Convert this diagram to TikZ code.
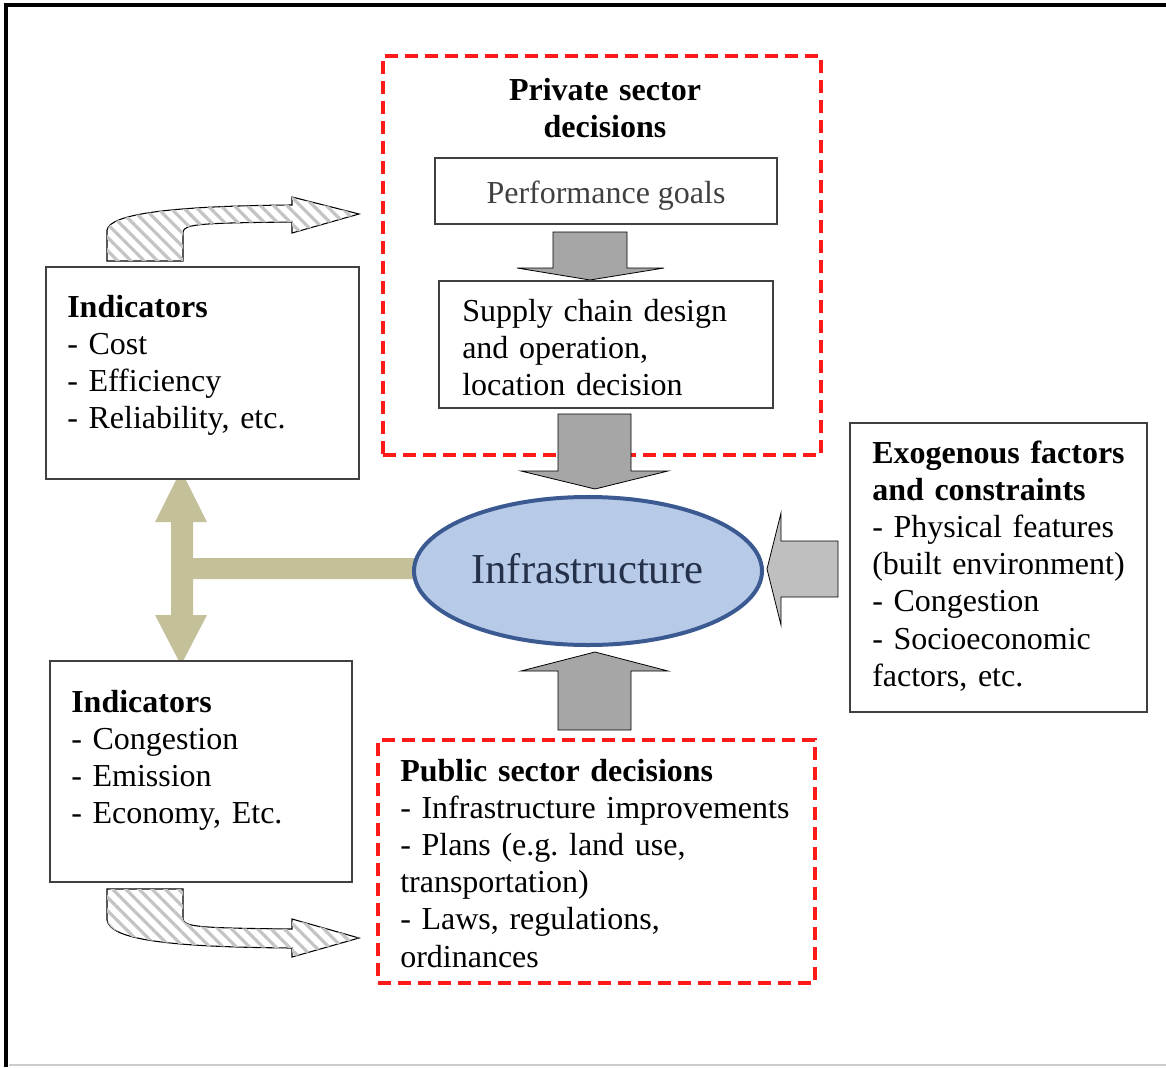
\documentclass[tikz,border=0pt]{standalone}
\usepackage{fontspec}
\setmainfont{Liberation Serif}
\usetikzlibrary{shapes.geometric,patterns.meta}
\definecolor{boxline}{HTML}{404040}
\definecolor{dashred}{HTML}{FF1A1A}
\definecolor{arrgray}{HTML}{A6A6A6}
\definecolor{arrlight}{HTML}{BFBFBF}
\definecolor{olive}{HTML}{C4C09A}
\definecolor{ellfill}{HTML}{B7CAE8}
\definecolor{elledge}{HTML}{3B5A92}
\definecolor{infratext}{HTML}{253049}
\definecolor{hatch}{HTML}{C4C4C4}
\tikzset{
  plainbox/.style={draw=boxline, line width=1.2pt, fill=white, inner sep=0pt},
  redbox/.style={draw=dashred, line width=3pt, dash pattern=on 9.75pt off 5.25pt, inner sep=0pt},
  txt/.style={inner sep=0pt, anchor=base west, align=left, font=\fontsize{24}{27.9}\selectfont},
  blockarrow/.style={draw=black, line width=0.6pt, fill=arrgray},
  hatcharrow/.style={draw=black, line width=0.8pt, fill=white, postaction={pattern={Lines[angle=-45,distance=7pt,line width=2.4pt]}, pattern color=hatch}},
}
\frenchspacing
\begin{document}
\frenchspacing
\begin{tikzpicture}[x=0.75pt,y=-0.75pt]
\useasboundingbox (0,0) rectangle (1166,1067);
% outer frame
\draw[black, line width=3pt] (6,1067) -- (6,5) -- (1166,5);
\draw[gray!40, line width=1pt] (9,1065) -- (1166,1065);

% private sector block
\node[redbox, minimum width=328.5pt, minimum height=299.25pt] (priv) at (602,255.5) {};
\node[txt, anchor=base, align=center, text width=300pt] (privt) at (605,100) {\textbf{Private sector}\\\textbf{decisions}};
\node[plainbox, minimum width=256.5pt, minimum height=49.5pt] (perf) at (606,191) {};
\node[txt, text=boxline, anchor=base] (perft) at (606,203) {Performance goals};
\path[blockarrow] (553,232) -- (627,232) -- (627,268) -- (664,268) -- (590,280) -- (517,268) -- (553,268) -- cycle;
\node[plainbox, minimum width=250.5pt, minimum height=95.25pt] (supply) at (606,344.5) {};
\node[txt, text width=240pt] (supplyt) at (462,321) {Supply chain design\\and operation,\\location decision};

% arrow into infrastructure from above
\path[blockarrow] (558,414) -- (631,414) -- (631,471) -- (668,471) -- (595,489) -- (521,471) -- (558,471) -- cycle;

% olive T arrow
\path[fill=olive] (181,470) -- (207,522) -- (193,522) -- (193,558) -- (430,558) -- (430,579) -- (193,579) -- (193,615) -- (207,615) -- (181,665) -- (155,615) -- (171,615) -- (171,522) -- (155,522) -- cycle;

% infrastructure
\node[ellipse, draw=elledge, line width=3pt, fill=ellfill, minimum width=261pt, minimum height=111pt, inner sep=0pt] (infra) at (588,571) {};
\node[inner sep=0pt, anchor=base west, text=infratext, font=\fontsize{32}{36}\selectfont] (infrat) at (471,583) {Infrastructure};

% arrow from below
\path[blockarrow] (558,730) -- (631,730) -- (631,671) -- (668,671) -- (595,652) -- (521,671) -- (558,671) -- cycle;
% arrow from the right
\path[blockarrow, fill=arrlight] (838,541) -- (838,597) -- (781,597) -- (781,625) -- (767,569) -- (781,513) -- (781,541) -- cycle;

% exogenous
\node[plainbox, minimum width=222.75pt, minimum height=216.75pt] (exo) at (998.5,567.5) {};
\node[txt, text width=210pt] (exot) at (872,463) {\textbf{Exogenous factors}\\\textbf{and constraints}\\- Physical features\\(built environment)\\- Congestion\\- Socioeconomic\\factors, etc.};

% public sector
\node[redbox, minimum width=327.75pt, minimum height=182.25pt] (pub) at (596.5,861.5) {};
\node[txt, text width=310pt] (pubt) at (400,781) {\textbf{Public sector decisions}\\- Infrastructure improvements\\- Plans (e.g. land use,\\transportation)\\- Laws, regulations,\\ordinances};

% indicators top
\node[plainbox, minimum width=234.75pt, minimum height=159pt] (ind1) at (202.5,373) {};
\node[txt, text width=220pt] (ind1t) at (67,317) {\textbf{Indicators}\\- Cost\\- Efficiency\\- Reliability, etc.};

% indicators bottom
\node[plainbox, minimum width=226.5pt, minimum height=165.75pt] (ind2) at (201,771.5) {};
\node[txt, text width=220pt] (ind2t) at (71,712) {\textbf{Indicators}\\- Congestion\\- Emission\\- Economy, Etc.};

% hatched curved arrows
\path[hatcharrow] (107,261) -- (107,230) .. controls (110,214) and (170,206) .. (292,205) -- (292,197) -- (359,214) -- (292,233) -- (292,222) .. controls (200,223) and (184,224) .. (183,232) -- (183,261) -- cycle;
\path[hatcharrow] (107,889) -- (183,889) -- (183,919) .. controls (184,927) and (200,928) .. (292,929) -- (292,919) -- (359,938) -- (292,957) -- (292,948) .. controls (170,947) and (110,940) .. (107,920) -- cycle;
\end{tikzpicture}
\end{document}
